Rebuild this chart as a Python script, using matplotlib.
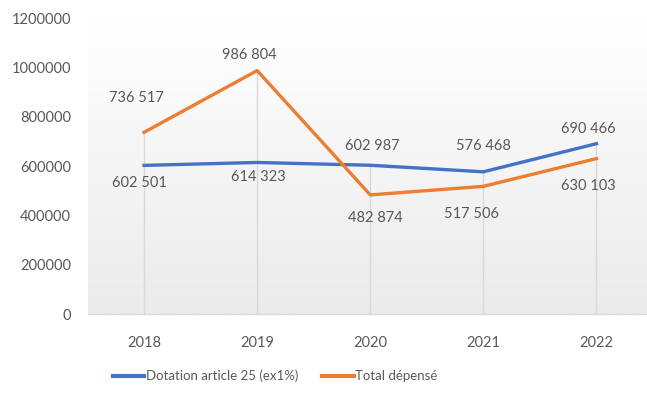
import matplotlib
matplotlib.use("Agg")
import matplotlib.pyplot as plt
import numpy as np
from matplotlib.colors import LinearSegmentedColormap

plt.rcParams['font.family'] = ['Lato', 'DejaVu Sans']

years = ["2018", "2019", "2020", "2021", "2022"]
dotation = [602501, 614323, 602987, 576468, 690466]
total = [736517, 986804, 482874, 517506, 630103]
dotation_labels = ["602 501", "614 323", "602 987", "576 468", "690 466"]
total_labels = ["736 517", "986 804", "482 874", "517 506", "630 103"]
yticks = [0, 200000, 400000, 600000, 800000, 1000000, 1200000]

BLUE = "#4472C4"
ORANGE = "#ED7D31"
TXT = "#595959"

W, H = 647, 411
fig = plt.figure(figsize=(W / 100, H / 100), dpi=100)
left, right, top, bottom = 87.5, 653, 18, 314
ax = fig.add_axes([left / W, 1 - bottom / H, (right - left) / W, (bottom - top) / H])

x = np.arange(len(years))
ax.set_xlim(-0.5, len(years) - 0.5)
ax.set_ylim(0, 1200000)

# gradient background
cmap = LinearSegmentedColormap.from_list("g", ["#EBEBEB", "#F5F5F5", "#FFFFFF"])
grad = np.linspace(0, 1, 256).reshape(-1, 1)
ax.imshow(grad, extent=[-0.5, len(years) - 0.5, 0, 1200000], origin="lower",
          aspect="auto", cmap=cmap, zorder=0)

# drop lines from the highest point of each category
tops = np.maximum(dotation, total)
ax.vlines(x, 0, tops, color="#D9D9D9", lw=1, zorder=1)

ax.plot(x, dotation, color=BLUE, lw=2.4, zorder=3, label="Dotation article 25 (ex1%)")
ax.plot(x, total, color=ORANGE, lw=2.4, zorder=3, label="Total dépensé")

# label offsets in pixels (dx, dy)
d_off = [(-5, -18), (1, -15), (2, 19), (0, 26), (-8, 15)]
t_off = [(-8, 34), (-8, 16), (5, -23), (-12, -28), (-8, -27)]
for i in range(len(years)):
    ax.annotate(dotation_labels[i], (x[i], dotation[i]), xytext=d_off[i],
                textcoords="offset pixels", ha="center", va="center",
                fontsize=10.5, color=TXT, zorder=4)
    ax.annotate(total_labels[i], (x[i], total[i]), xytext=t_off[i],
                textcoords="offset pixels", ha="center", va="center",
                fontsize=10.5, color=TXT, zorder=4)

ax.set_xticks(x)
ax.set_xticklabels(years)
ax.set_yticks(yticks)
ax.set_yticklabels([str(v) for v in yticks])
ax.tick_params(axis="both", length=0, labelsize=10.5, labelcolor=TXT)
ax.tick_params(axis="x", pad=16)
ax.tick_params(axis="y", pad=12)
for s in ["top", "right", "left"]:
    ax.spines[s].set_visible(False)
ax.spines["bottom"].set_color("#D9D9D9")
ax.spines["bottom"].set_linewidth(1)

fig.legend(loc="center", bbox_to_anchor=(275 / W, 1 - 376 / H), ncol=2, frameon=False,
           fontsize=9.5, labelcolor=TXT, handlelength=2.4, handletextpad=0.1,
           columnspacing=1.8)
for line in fig.legends[0].get_lines():
    line.set_linewidth(3)

fig.savefig("out.png", dpi=100, facecolor="white")
